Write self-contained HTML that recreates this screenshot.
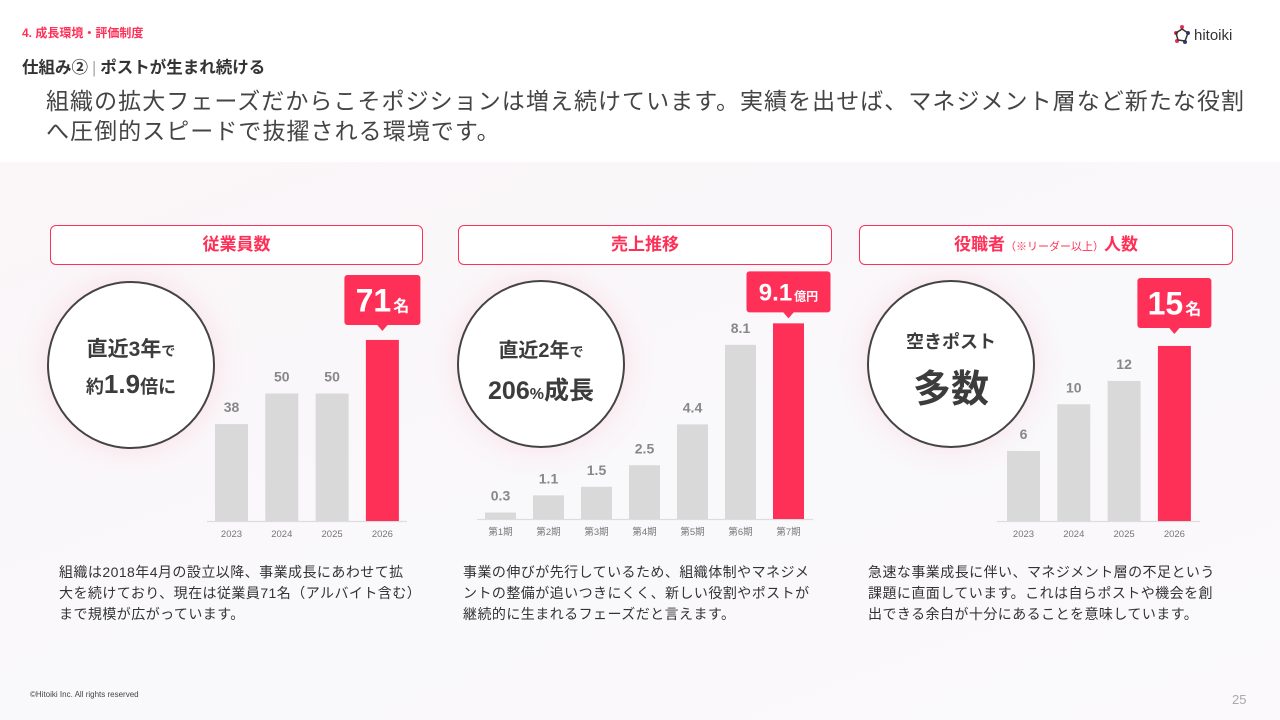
<!DOCTYPE html>
<html><head><meta charset="utf-8">
<style>
*{margin:0;padding:0;box-sizing:border-box}
body{width:1280px;height:720px;position:relative;overflow:hidden;background:#fff;font-family:"Liberation Sans","Noto Sans CJK JP",sans-serif;color:#444}
.abs{position:absolute}
.bg{left:0;top:162px;width:1280px;height:558px;background:linear-gradient(160deg,#fbf6f8 0%,#f9f8fb 60%,#fbf9fb 100%)}
.hdr{height:40px;border:1.3px solid #ff3057;border-radius:6px;background:#fff;color:#ff3057;font-weight:bold;font-size:17px;text-align:center;line-height:37px}
.circ{width:168px;height:168px;border-radius:50%;border:2px solid #444;background:#fff;text-align:center;font-weight:bold;color:#3c3c3c;box-shadow:0 0 30px rgba(255,120,150,.18)}
.desc{font-size:14px;letter-spacing:0.45px;line-height:21px;color:#333}
</style></head><body>
<div class="abs bg"></div>
<div class="abs" style="left:22px;top:24px;font-size:12px;color:#ff3057;font-weight:bold">4. 成長環境・評価制度</div>
<div class="abs" style="left:22px;top:54px;font-size:16.5px;font-weight:bold;color:#333">仕組み②<span style="color:#aaa;font-weight:normal;margin:0 4px">|</span>ポストが生まれ続ける</div>
<div class="abs" style="left:46px;top:86px;font-size:23px;letter-spacing:1.05px;line-height:30px;color:#444;width:1230px">組織の拡大フェーズだからこそポジションは増え続けています。実績を出せば、マネジメント層など新たな役割<br>へ圧倒的スピードで抜擢される環境です。</div>
<div class="abs" style="left:1172px;top:23px">
<svg width="80" height="24"><g fill="#e8304f"><circle cx="4" cy="10" r="2"/><circle cx="10" cy="4" r="2"/></g><g fill="#2a3a8f"><circle cx="16" cy="10" r="2"/><circle cx="13" cy="19" r="2"/></g><circle cx="5" cy="18" r="2" fill="#e8304f"/><path d="M4 10 L10 6 L16 10 L13 18 L6 17 Z" fill="none" stroke="#333" stroke-width="1.5"/><text x="22" y="17" font-size="15" fill="#333" font-family="Liberation Sans">hitoiki</text></svg></div>

<div class="abs hdr" style="left:50px;top:225px;width:373px">従業員数</div>
<div class="abs hdr" style="left:458px;top:225px;width:374px">売上推移</div>
<div class="abs hdr" style="left:859px;top:225px;width:374px">役職者<span style="font-size:11px;font-weight:normal">（※リーダー以上）</span>人数</div>

<div class="abs circ" style="left:47px;top:281px"><div style="margin-top:50px;font-size:21px">直近3年<span style="font-size:14px">で</span></div><div style="margin-top:6px;font-size:18px">約<span style="font-size:26px">1.9</span>倍に</div></div>
<div class="abs circ" style="left:457px;top:280px"><div style="margin-top:52px;font-size:20px">直近2年<span style="font-size:14px">で</span></div><div style="margin-top:8px;font-size:25px">206<span style="font-size:16px">%</span>成長</div></div>
<div class="abs circ" style="left:867px;top:280px"><div style="margin-top:46px;font-size:18px">空きポスト</div><div style="margin-top:4px;font-size:38px">多数</div></div>

<svg class="abs" style="left:0;top:0" width="1280" height="720" id="charts"></svg>

<div class="abs desc" style="left:59px;top:562px;width:356px">組織は2018年4月の設立以降、事業成長にあわせて拡大を続けており、現在は従業員71名（アルバイト含む）まで規模が広がっています。</div>
<div class="abs desc" style="left:463px;top:562px;width:356px">事業の伸びが先行しているため、組織体制やマネジメントの整備が追いつきにくく、新しい役割やポストが継続的に生まれるフェーズだと言えます。</div>
<div class="abs desc" style="left:868px;top:562px;width:356px">急速な事業成長に伴い、マネジメント層の不足という課題に直面しています。これは自らポストや機会を創出できる余白が十分にあることを意味しています。</div>
<div class="abs" style="left:30px;top:690px;font-size:8px;color:#444">©Hitoiki Inc. All rights reserved</div>
<div class="abs" style="left:1232px;top:692px;font-size:13px;color:#aaa">25</div>

<script>
const empCats=["2023","2024","2025","2026"];
const empVals=[38,50,50,71];
const salesCats=["第1期","第2期","第3期","第4期","第5期","第6期","第7期"];
const salesVals=[0.3,1.1,1.5,2.5,4.4,8.1,9.1];
const mgrCats=["2023","2024","2025","2026"];
const mgrVals=[6,10,12,15];
const NS="http://www.w3.org/2000/svg";
const svg=document.getElementById('charts');
function mk(t,a,p){const e=document.createElementNS(NS,t);for(const k in a)e.setAttribute(k,a[k]);(p||svg).appendChild(e);return e;}
function chart(cats,vals,o){
  const y=v=>o.base-v*o.scale;
  const g=mk('g',{});
  
  
  const ax=mk('line',{x1:o.ax0,x2:o.ax1,y1:o.base+0.5,y2:o.base+0.5,stroke:'#ddd','stroke-width':1.2},g);
  
  
  const n=vals.length;
  vals.forEach((v,i)=>{
    const x=o.x0+i*o.step, last=i===n-1;
    const r=mk('rect',{x:x,y:y(v),width:o.w,height:v*o.scale,fill:last?'#ff3057':'#d9d9d9'},g);
    
    
    const lb=mk('text',{x:x+o.w/2,y:o.base+16,'text-anchor':'middle','font-size':9.5,fill:'#777'},g);
    lb.textContent=cats[i];
    
    
    if(!last){
      const t=mk('text',{x:x+o.w/2,y:y(v)-12,'text-anchor':'middle','font-size':14,'font-weight':'bold',fill:'#888'},g);
      t.textContent=v;
      
      
    } else {
      const cx=x+o.w/2, bt=y(v)-o.gap, bh=o.bh, bw=o.bw;
      const c=mk('g',{},g);
      
      
      mk('rect',{x:cx-bw/2,y:bt-bh,width:bw,height:bh,rx:3,fill:'#ff3057'},c);
      mk('path',{d:`M${cx-6} ${bt-1}L${cx+6} ${bt-1}L${cx} ${bt+6}Z`,fill:'#ff3057'},c);
      const t=mk('text',{x:cx,y:bt-bh/2+o.fs*0.36,'text-anchor':'middle','font-size':o.fs,'font-weight':'bold',fill:'#fff'},c);
      t.textContent=v;
      const u=mk('tspan',{'font-size':o.fs*0.5,dx:2},t);u.textContent=o.unit;
    }
  });
}
chart(empCats,empVals,{name:'employees-chart',base:521,scale:2.55,x0:215,step:50.3,w:33,ax0:207,ax1:407,bw:76,bh:50,fs:32,unit:'名',gap:15});
chart(salesCats,salesVals,{name:'sales-chart',base:519,scale:21.5,x0:485,step:48,w:31,ax0:477,ax1:813,bw:84,bh:41,fs:24,unit:'億円',gap:11});
chart(mgrCats,mgrVals,{name:'managers-chart',base:521,scale:11.67,x0:1007,step:50.3,w:33,ax0:997,ax1:1200,bw:74,bh:50,fs:32,unit:'名',gap:18});
</script>
</body></html>
